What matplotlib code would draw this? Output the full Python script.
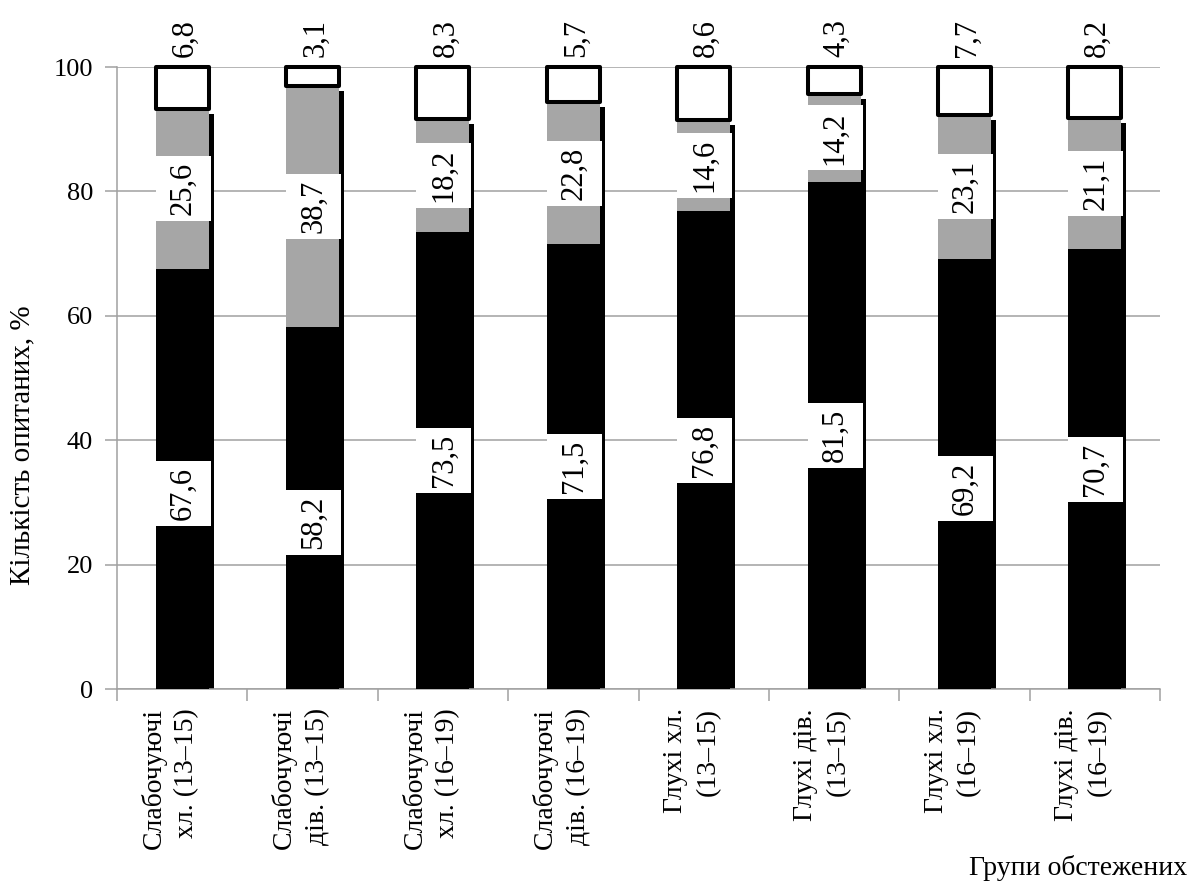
import matplotlib
matplotlib.use("Agg")
import matplotlib.pyplot as plt
import numpy as np
from matplotlib.transforms import ScaledTranslation

# Групи обстежених та частки відповідей, %
categories = [
    "Слабочуючі\nхл. (13–15)",
    "Слабочуючі\nдів. (13–15)",
    "Слабочуючі\nхл. (16–19)",
    "Слабочуючі\nдів. (16–19)",
    "Глухі хл.\n(13–15)",
    "Глухі дів.\n(13–15)",
    "Глухі хл.\n(16–19)",
    "Глухі дів.\n(16–19)",
]
low = np.array([67.6, 58.2, 73.5, 71.5, 76.8, 81.5, 69.2, 70.7])
mid = np.array([25.6, 38.7, 18.2, 22.8, 14.6, 14.2, 23.1, 21.1])
top = np.array([6.8, 3.1, 8.3, 5.7, 8.6, 4.3, 7.7, 8.2])

# зсув підписів нижнього сегмента (вручну, як у звіті)
low_shift = [-2.3, -2.3, 0, 0, 0, 0, -2.3, 0]

plt.rcParams['font.family'] = 'serif'
plt.rcParams['font.serif'] = ['Liberation Serif', 'Times New Roman', 'DejaVu Serif']
GRID = '#A0A0A0'
GRAY = '#A6A6A6'


def fmt(v):
    return f"{v:.1f}".replace('.', ',')


fig = plt.figure(figsize=(11.89, 8.90), dpi=100)
ax = fig.add_axes([117 / 1189, 1 - 689 / 890, 1043 / 1189, 622 / 890])
ax.set_xlim(-0.5, 7.5)
ax.set_ylim(0, 100)

x = np.arange(len(categories))
w = 0.406

# тінь під чорним і сірим сегментами
shadow = ax.transData + ScaledTranslation(0.05, -0.05, fig.dpi_scale_trans)
ax.bar(x, low + mid, w, color='black', transform=shadow, zorder=2)

ax.bar(x, low, w, color='black', zorder=3)
ax.bar(x, mid, w, bottom=low, color=GRAY, zorder=3)
ax.bar(x, top, w, bottom=low + mid, facecolor='white', edgecolor='black',
       linewidth=2.9, joinstyle='round', clip_on=False, zorder=4)

# білі плашки під підписами
box_w = 55 * 8 / 1043
box_h = 65 * 100 / 622
dx = 1 * 8 / 1043
for centers, vals in ((low / 2 + np.array(low_shift), low), (low + mid / 2, mid)):
    ax.bar(x + dx, box_h, box_w, bottom=centers - box_h / 2, color='white', zorder=5)
    for xi, yc, v in zip(x, centers, vals):
        ax.text(xi + dx, yc, fmt(v), rotation=90, ha='center', va='center',
                fontsize=22, zorder=6)

for xi, v in zip(x, top):
    ax.annotate(fmt(v), (xi, 100), xytext=(2, 7), textcoords='offset points',
                rotation=90, ha='center', va='bottom', fontsize=22,
                annotation_clip=False)

ax.set_axisbelow(True)
ax.yaxis.grid(True, color=GRID, linewidth=1.1)
for s in ('top', 'right'):
    ax.spines[s].set_visible(False)
for s in ('left', 'bottom'):
    ax.spines[s].set_color(GRID)
    ax.spines[s].set_linewidth(1.1)

ax.set_yticks(range(0, 101, 20))
ax.tick_params(axis='y', length=8.6, width=1.1, color=GRID, pad=8.6, labelsize=19)

ax.set_xticks(x)
ax.set_xticklabels(categories, rotation=90, fontsize=20, linespacing=1.4,
                   multialignment='right')
ax.set_xticks(np.arange(-0.5, 8, 1), minor=True)
ax.tick_params(axis='x', which='major', length=0, pad=13.7)
ax.tick_params(axis='x', which='minor', length=8.6, width=1.1, color=GRID)
# підписи груп трохи лівіше від центру стовпчика
shift = ScaledTranslation(-0.12, 0, fig.dpi_scale_trans)
for lbl in ax.get_xticklabels():
    lbl.set_transform(lbl.get_transform() + shift)

fig.text(22 / 1189, 1 - 445 / 890, "Кількість опитаних, %", rotation=90,
         ha='center', va='center', fontsize=21)
fig.text(1187 / 1189, 15 / 890, "Групи обстежених", ha='right', va='baseline',
         fontsize=20)

fig.savefig('out.png', dpi=100)
